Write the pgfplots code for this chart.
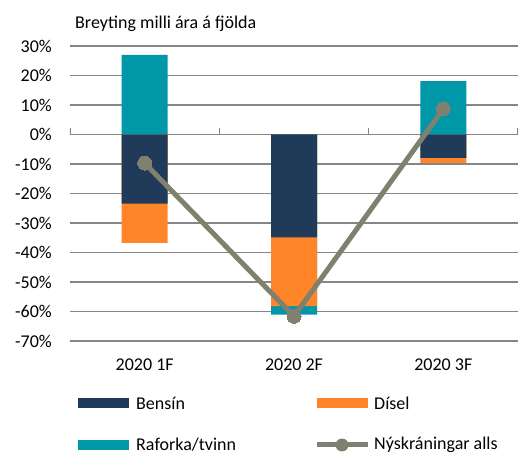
\documentclass[border=0pt]{standalone}
\usepackage{fontspec}
\setmainfont{Carlito}
\usepackage{pgfplots}
\pgfplotsset{compat=1.18}
\definecolor{bensin}{RGB}{32,58,90}
\definecolor{disel}{RGB}{255,133,40}
\definecolor{raforka}{RGB}{0,151,169}
\definecolor{alls}{RGB}{128,128,112}
\definecolor{gridc}{RGB}{134,134,134}

\begin{document}
\begin{tikzpicture}[font=\fontsize{18bp}{21bp}\selectfont]
\path[use as bounding box] (0,0) rectangle (531bp,455bp);
\begin{axis}[
    at={(70bp,114bp)}, anchor=south west,
    scale only axis,
    width=448bp, height=295bp,
    xmin=-0.5, xmax=2.5,
    ymin=-70, ymax=30,
    ytick={-70,-60,...,30},
    yticklabels={-70\%,-60\%,-50\%,-40\%,-30\%,-20\%,-10\%,0\%,10\%,20\%,30\%},
    xtick={0,1,2},
    xticklabels={2020 1F,2020 2F,2020 3F},
    axis line style={draw=none},
    major tick style={draw=none},
    ymajorgrids,
    major grid style={gridc, line width=1.3bp},
    yticklabel style={anchor=east, inner sep=0pt, xshift=-18bp},
    xticklabel style={anchor=center, yshift=-24bp},
    every axis plot/.append style={ybar, bar width=46bp, bar shift=0pt, draw=none},
]
% bars overlap from zero: totals first, then the parts on top
\addplot[fill=raforka] coordinates {(0,0) (1,-61.1) (2,0)};  % Raforka/tvinn (neg. part)
\addplot[fill=disel] coordinates {(0,-36.7) (1,-58.2) (2,-9.6)}; % Bensín + Dísel
\addplot[fill=bensin] coordinates {(0,-23.4) (1,-34.9) (2,-7.9)}; % Bensín
\addplot[fill=raforka] coordinates {(0,27.0) (1,0) (2,18.1)};  % Raforka/tvinn (pos.)
\addplot[sharp plot, draw=alls, line width=5bp, mark=*, mark size=7bp,
    mark options={fill=alls, draw=alls, line width=0pt}]
    coordinates {(0,-9.7) (1,-61.6) (2,8.7)};
% small ticks on the zero line between categories
\pgfplotsinvokeforeach{-0.5,0.5,1.5,2.5}{
    \draw[gridc, line width=1.3bp] (axis cs:#1,0) -- ([yshift=6bp]axis cs:#1,0);
}
\end{axis}
\node[anchor=west, inner sep=0pt] at (75bp,431bp) {Breyting milli ára á fjölda};
% legend
\fill[bensin] (78bp,47bp) rectangle (129bp,57bp);
\node[anchor=west, inner sep=0pt] at (136bp,52bp) {Bensín};
\fill[disel] (317bp,47bp) rectangle (368bp,57bp);
\node[anchor=west, inner sep=0pt] at (374bp,52bp) {Dísel};
\fill[raforka] (78bp,5bp) rectangle (129bp,15bp);
\node[anchor=west, inner sep=0pt] at (136bp,10bp) {Raforka/tvinn};
\draw[alls, line width=5bp] (317bp,10bp) -- (368bp,10bp);
\fill[alls] (342bp,10bp) circle (6.5bp);
\node[anchor=west, inner sep=0pt] at (374bp,10bp) {Nýskráningar alls};
\end{tikzpicture}
\end{document}
